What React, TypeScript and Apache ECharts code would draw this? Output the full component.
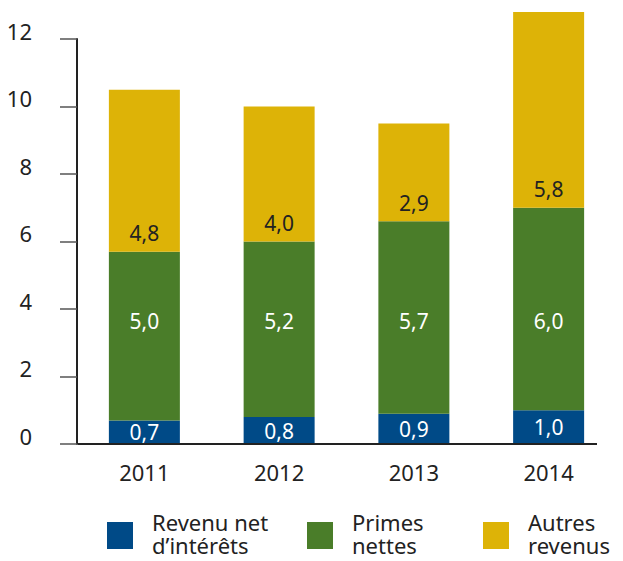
import React, { useEffect, useRef } from "react";
import * as echarts from "echarts";

const years = ["2011", "2012", "2013", "2014"];
const revenuNet = [0.7, 0.8, 0.9, 1.0];
const primesNettes = [5.0, 5.2, 5.7, 6.0];
const autresRevenus = [4.8, 4.0, 2.9, 5.8];
const seriesNames = ["Revenu net\nd\u2019intérêts", "Primes\nnettes", "Autres\nrevenus"];
const seriesColors = ["#004a87", "#4a7d29", "#ddb307"];
const yTicks = { min: 0, max: 12, interval: 2 };
const greenLabelLevel = 3.65;

const FONT = "'Noto Sans', 'Open Sans', sans-serif";

export default function App() {
  const ref = useRef<HTMLDivElement>(null);
  useEffect(() => {
    if (!ref.current) return;
    const chart = echarts.init(ref.current, undefined, { renderer: "svg" });
    const gridTop = 39;
    const gridBottomY = 444;
    const pxPerUnit = (gridBottomY - gridTop) / (yTicks.max - yTicks.min);
    const fmt = (v: number) => v.toFixed(1).replace(".", ",");

    const greenData = primesNettes.map((v, i) => {
      const center = revenuNet[i] + v / 2;
      return {
        value: v,
        label: { offset: [0, -(greenLabelLevel - center) * pxPerUnit] },
      };
    });

    const legendX = [107, 307, 483];
    const legendGraphics: any[] = [];
    seriesNames.forEach((n, i) => {
      legendGraphics.push({
        type: "rect",
        shape: { x: legendX[i], y: 522, width: 26, height: 27 },
        style: { fill: seriesColors[i] },
      });
      legendGraphics.push({
        type: "text",
        x: legendX[i] + 45,
        y: 510,
        style: {
          text: n,
          font: `22px ${FONT}`,
          fill: "#222",
          lineHeight: 23,
          verticalAlign: "top",
        },
      });
    });

    chart.setOption({
      animation: false,
      textStyle: { fontFamily: FONT },
      grid: { left: 77, right: 7, top: gridTop, bottom: 561 - gridBottomY, containLabel: false },
      xAxis: {
        type: "category",
        data: years,
        axisLine: { show: false },
        axisTick: { show: false },
        axisLabel: {
          fontSize: 22,
          color: "#222",
          margin: 17,
          lineHeight: 22,
          fontFamily: FONT,
        },
      },
      yAxis: {
        type: "value",
        min: yTicks.min,
        max: yTicks.max,
        interval: yTicks.interval,
        axisLine: { show: true, lineStyle: { color: "#222", width: 2 } },
        axisTick: { show: true, length: 17, lineStyle: { color: "#555", width: 1.5 } },
        splitLine: { show: false },
        axisLabel: {
          fontSize: 22,
          color: "#222",
          margin: 45,
          verticalAlign: "bottom",
          lineHeight: 17,
          fontFamily: FONT,
        },
      },
      graphic: [
        {
          type: "line",
          shape: { x1: 78, y1: gridBottomY, x2: 597, y2: gridBottomY },
          style: { stroke: "#222", lineWidth: 2 },
          z: 100,
        },
        ...legendGraphics,
      ],
      series: [
        {
          name: seriesNames[0],
          type: "bar",
          stack: "t",
          barWidth: 71,
          clip: false,
          data: revenuNet,
          itemStyle: { color: seriesColors[0] },
          label: {
            show: true,
            position: "inside",
            color: "#fff",
            fontSize: 21,
            fontFamily: FONT,
            formatter: (p: any) => fmt(p.value),
          },
        },
        {
          name: seriesNames[1],
          type: "bar",
          stack: "t",
          barWidth: 71,
          clip: false,
          data: greenData,
          itemStyle: { color: seriesColors[1] },
          label: {
            show: true,
            position: "inside",
            color: "#fff",
            fontSize: 21,
            fontFamily: FONT,
            formatter: (p: any) => fmt(p.value),
          },
        },
        {
          name: seriesNames[2],
          type: "bar",
          stack: "t",
          barWidth: 71,
          clip: false,
          data: autresRevenus,
          itemStyle: { color: seriesColors[2] },
          label: {
            show: true,
            position: "insideBottom",
            distance: 8,
            color: "#222",
            fontSize: 21,
            fontFamily: FONT,
            formatter: (p: any) => fmt(p.value),
          },
        },
      ],
    });
    return () => chart.dispose();
  }, []);
  return <div ref={ref} style={{ width: 623, height: 561, position: "absolute", left: 0, top: 0 }} />;
}
